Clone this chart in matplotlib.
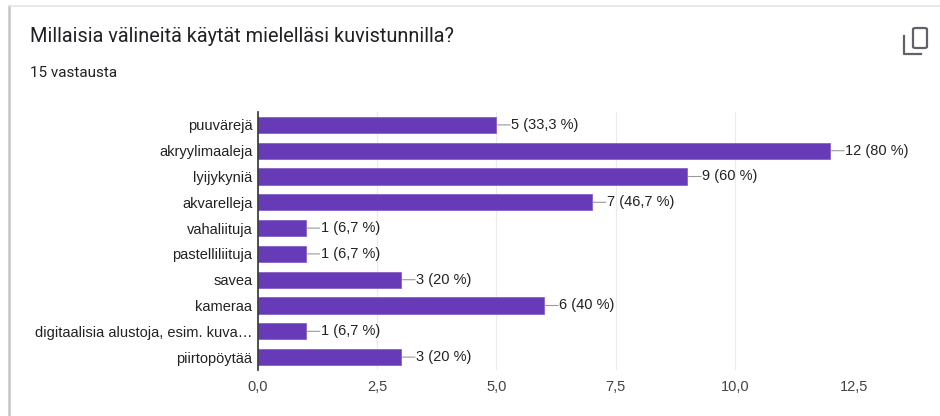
import matplotlib.pyplot as plt
from matplotlib.patches import FancyBboxPatch

# data
categories = ['puuvärejä', 'akryylimaaleja', 'lyijykyniä', 'akvarelleja', 'vahaliituja',
              'pastelliliituja', 'savea', 'kameraa', 'digitaalisia alustoja, esim. kuva…',
              'piirtopöytää']
counts = [5, 12, 9, 7, 1, 1, 3, 6, 1, 3]
percents = ['33,3', '80', '60', '46,7', '6,7', '6,7', '20', '40', '6,7', '20']
xticks = [0, 2.5, 5, 7.5, 10, 12.5]
xtick_labels = ['0,0', '2,5', '5,0', '7,5', '10,0', '12,5']

W, H = 940, 416
fig = plt.figure(figsize=(W / 100, H / 100), dpi=100)

# card border
fig.add_artist(plt.Line2D([9 / W, 9 / W], [0, 1 - 6 / H], color='#c4c4c4', lw=1.8))
fig.add_artist(plt.Line2D([9 / W, 1], [1 - 6 / H, 1 - 6 / H], color='#e4e4e4', lw=1.2))

fig.text(30 / W, 1 - 37 / H, 'Millaisia välineitä käytät mielelläsi kuvistunnilla?',
         fontsize=14.3, family='Roboto', color='#202124', va='center')
fig.text(30 / W, 1 - 73 / H, '15 vastausta', fontsize=11, family='Roboto',
         color='#202124', va='center')

# copy icon
fig.add_artist(FancyBboxPatch((913 / W, 1 - 48 / H), 14 / W, 20 / H,
                              boxstyle='round,pad=0,rounding_size=0.003',
                              fill=False, ec='#5f6368', lw=1.6))
fig.add_artist(plt.Line2D([903.5 / W, 903.5 / W, 921 / W], [1 - 36 / H, 1 - 54 / H, 1 - 54 / H],
                          color='#5f6368', lw=1.6))

ax = fig.add_axes([258 / W, 1 - 370 / H, 596 / W, 258 / H])
y = list(range(len(categories)))
ax.barh(y, counts, height=0.63, color='#673ab7', edgecolor='#7e57c2', lw=0.5, zorder=3)
ax.set_ylim(len(categories) - 0.5, -0.5)
ax.set_xlim(0, 12.5)
ax.set_yticks(y)
ax.set_yticklabels(categories, family='Liberation Sans', fontsize=10.5, color='#222222')
ax.set_xticks(xticks)
ax.set_xticklabels(xtick_labels, family='Liberation Sans', fontsize=10.5, color='#444444')
ax.tick_params(length=0, pad=7)
ax.tick_params(axis='y', pad=4)
ax.grid(axis='x', color='#ebebeb', lw=0.8, zorder=0)
for s in ['top', 'right', 'bottom']:
    ax.spines[s].set_visible(False)
ax.spines['left'].set_color('#333333')
ax.spines['left'].set_linewidth(1.2)
ax.spines['left'].set_zorder(4)

for yi, c, p in zip(y, counts, percents):
    ax.annotate('', xy=(c, yi), xytext=(14, 0), textcoords='offset pixels',
                arrowprops=dict(arrowstyle='-', color='#999999', lw=0.8,
                                shrinkA=0, shrinkB=1))
    ax.annotate(f'{c} ({p} %)', xy=(c, yi), xytext=(15, 0), textcoords='offset pixels',
                va='center', ha='left', family='Liberation Sans', fontsize=10.5,
                color='#222222')

fig.savefig('out.png', dpi=100)
